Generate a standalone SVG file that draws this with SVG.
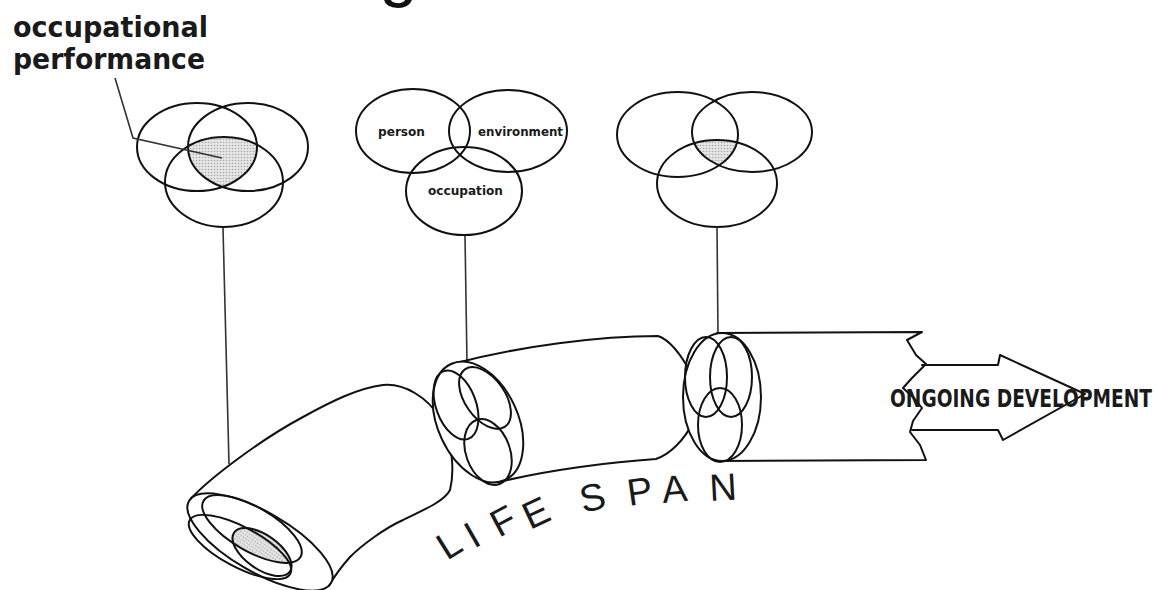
<svg xmlns="http://www.w3.org/2000/svg" width="1157" height="590" viewBox="0 0 1157 590">
<style>
.ln{fill:none;stroke:#111;stroke-width:2;stroke-linejoin:round;stroke-linecap:round}
.wf{fill:#fff;stroke:#111;stroke-width:2;stroke-linejoin:round}
.cn{fill:none;stroke:#333;stroke-width:1.6}
.bold{font-family:"Liberation Sans Narrow","DejaVu Sans Condensed","Liberation Sans",Arial,sans-serif;font-weight:bold;fill:#1a1a1a}
.sm{font-size:12px}
.shade{fill:url(#dots)}
</style>
<defs>
<pattern id="dots" width="3" height="3" patternUnits="userSpaceOnUse"><rect width="3" height="3" fill="#e6e6e6"/><circle cx="1.5" cy="1.5" r="0.8" fill="#a9a9a9"/></pattern>
<clipPath id="v1a"><ellipse cx="197" cy="147" rx="60" ry="44"/></clipPath>
<clipPath id="v1c"><ellipse cx="224" cy="182" rx="59" ry="45"/></clipPath>
<clipPath id="v3a"><ellipse cx="677.5" cy="134.5" rx="60.5" ry="42.5"/></clipPath>
<clipPath id="v3c"><ellipse cx="717" cy="183.5" rx="60" ry="43.5"/></clipPath>
<clipPath id="e1c"><ellipse cx="252" cy="529" rx="56" ry="22" transform="rotate(30 252 529)"/></clipPath>
</defs>

<g id="title-fragment"><text x="379" y="-7" font-family="Liberation Sans,Arial,sans-serif" font-size="70" fill="#111">g</text></g>

<g id="label-occupational-performance">
<text class="bold" x="13" y="37" font-size="29" textLength="195" lengthAdjust="spacingAndGlyphs">occupational</text>
<text class="bold" x="13" y="69" font-size="29" textLength="192" lengthAdjust="spacingAndGlyphs">performance</text>
</g>

<g id="venn-left">
<g clip-path="url(#v1a)"><g clip-path="url(#v1c)"><ellipse class="shade" cx="248" cy="147" rx="60" ry="44"/></g></g>
<ellipse class="ln" cx="197" cy="147" rx="60" ry="44"/>
<ellipse class="ln" cx="248" cy="147" rx="60" ry="44"/>
<ellipse class="ln" cx="224" cy="182" rx="59" ry="45"/>
</g>

<g id="venn-middle">
<ellipse class="ln" cx="413" cy="131" rx="57" ry="42"/>
<ellipse class="ln" cx="508" cy="131" rx="59" ry="41"/>
<ellipse class="ln" cx="464" cy="191" rx="58" ry="44"/>
<text class="bold sm" x="378" y="136" textLength="47" lengthAdjust="spacingAndGlyphs">person</text>
<text class="bold sm" x="478" y="136" textLength="85" lengthAdjust="spacingAndGlyphs">environment</text>
<text class="bold sm" x="428" y="195" textLength="75" lengthAdjust="spacingAndGlyphs">occupation</text>
</g>

<g id="venn-right">
<g clip-path="url(#v3a)"><g clip-path="url(#v3c)"><ellipse class="shade" cx="752" cy="132" rx="60" ry="40"/></g></g>
<ellipse class="ln" cx="677.5" cy="134.5" rx="60.5" ry="42.5"/>
<ellipse class="ln" cx="752" cy="132" rx="60" ry="40"/>
<ellipse class="ln" cx="717" cy="183.5" rx="60" ry="43.5"/>
</g>

<g id="connectors">
<path class="cn" d="M115,78 L133,138 L222,158"/>
<line class="cn" x1="223" y1="228" x2="229" y2="464"/>
<line class="cn" x1="465" y1="236" x2="467" y2="362"/>
<line class="cn" x1="717" y1="227" x2="718" y2="334"/>
</g>

<g id="tube-elbow">
<path class="wf" d="M191,498.5 C210,478 260,440 303,417 C330,402 358,388 383,385 C405,383 428,398 440,418 C452,438 455,470 450,490 C445,500 430,507 403,520 C385,528 362,545 350,557 C342,566 334,577 329,585.5 Z"/>
<ellipse class="wf" cx="260" cy="542" rx="82" ry="30" transform="rotate(30 260 542)"/>
<g clip-path="url(#e1c)"><ellipse class="shade" cx="262" cy="552" rx="34" ry="17" transform="rotate(35 262 552)"/></g>
<ellipse class="ln" cx="252" cy="529" rx="56" ry="22" transform="rotate(30 252 529)"/>
<ellipse class="ln" cx="240" cy="547" rx="57" ry="20" transform="rotate(28 240 547)"/>
<ellipse class="ln" cx="262" cy="552" rx="34" ry="17" transform="rotate(35 262 552)"/>
</g>

<g id="tube-middle">
<path class="wf" d="M452,364 C520,346 600,336 658,336 C670,340 682,356 692,375 L694,420 C684,442 668,455 656,459 C610,462 550,470 503,481 Z"/>
<ellipse class="wf" cx="478" cy="422" rx="40" ry="64" transform="rotate(-25 478 422)"/>
<ellipse class="ln" cx="456" cy="405" rx="20" ry="36" transform="rotate(-20 456 405)"/>
<ellipse class="ln" cx="485" cy="398" rx="20" ry="35" transform="rotate(-35 485 398)"/>
<ellipse class="ln" cx="488" cy="452" rx="22" ry="34" transform="rotate(-20 488 452)"/>
</g>

<g id="tube-right">
<path class="wf" d="M717,333 L922,332 L907,340 L916,355 L926,364 L912,378 L903,388 L914,398 L922,408 L913,421 L910,432 L920,445 L926,460 L720,461 Z"/>
<ellipse class="wf" cx="722" cy="397" rx="39" ry="64"/>
<ellipse class="ln" cx="706" cy="377" rx="21" ry="40"/>
<ellipse class="ln" cx="731" cy="377" rx="21" ry="40"/>
<ellipse class="ln" cx="720" cy="425" rx="22" ry="37"/>
</g>

<g id="arrow">
<polyline class="ln" points="922,365 998,365 1000,355 1085,394 1003,440 998,430 912,430"/>
<text class="bold" x="890" y="407" font-size="24" textLength="262" lengthAdjust="spacingAndGlyphs">ONGOING DEVELOPMENT</text>
</g>

<g id="label-lifespan">
<text font-family="Liberation Sans,Arial,sans-serif" font-size="38" fill="#1a1a1a" x="447 474 499 530 560 583 629 663 710" y="561 549 538 530 520 513 506 503 501" rotate="-32 -30 -28 -25 -18 -13 -8 -5 -3">LIFE SPAN</text>
</g>
</svg>
